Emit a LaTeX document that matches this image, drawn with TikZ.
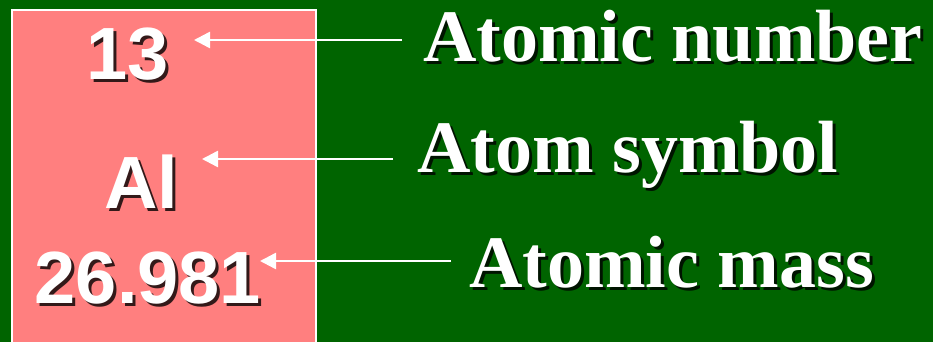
\documentclass[tikz,border=0pt]{standalone}
\usepackage{fontspec}
\setmainfont{Liberation Serif}
\newfontfamily\symfont{Liberation Sans}
\usetikzlibrary{arrows.meta, positioning}
\definecolor{ELgreen}{RGB}{0,100,0}
\definecolor{ELpink}{RGB}{255,127,127}
\tikzset{
  cell/.style={font=\symfont\bfseries\fontsize{74}{74}\selectfont, text=white, inner sep=0pt, anchor=base},
  cellsh/.style={cell, text=black, opacity=0.8},
  tag/.style={font=\bfseries\fontsize{74}{74}\selectfont, text=white, inner sep=0pt, anchor=base west},
  tagsh/.style={tag, text=black, opacity=0.8},
  pointer/.style={white, line width=2.5pt, -{Triangle[length=16pt, width=16pt]}}
}
\begin{document}
\begin{tikzpicture}[x=1pt, y=-1pt]
      \useasboundingbox (0,0) rectangle (933,342);
      % background and element cell
      \fill[ELgreen] (0,0) rectangle (933,342);
      \draw[white, line width=2pt, fill=ELpink] (12,10) rectangle (316,350);
      % cell entries (shadow first)
      \node[cellsh] (numsh) at (131,83) {13};
      \node[cell] (num) at (128,80) {13};
      \node[cellsh] (symsh) at (144,211) {Al};
      \node[cell] (sym) at (141,208) {Al};
      \node[cellsh] (masssh) at (151,306) {26.981};
      \node[cell] (mass) at (148,303) {26.981};
      % labels
      \node[tagsh] (numlabsh) at (426,65) {Atomic number};
      \node[tag] (numlab) at (423,62) {Atomic number};
      \node[tagsh] (symlabsh) at (420,175) {Atom symbol};
      \node[tag] (symlab) at (417,172) {Atom symbol};
      \node[tagsh] (masslabsh) at (472,290) {Atomic mass};
      \node[tag] (masslab) at (469,287) {Atomic mass};
      % pointers
      \coordinate (numtail) at (402,40);
      \coordinate (numtip) at (194,40);
      \coordinate (symtail) at (393,159);
      \coordinate (symtip) at (202,159);
      \coordinate (masstail) at (451,261);
      \coordinate (masstip) at (260,261);
      \draw[pointer] (numtail) -- (numtip);
      \draw[pointer] (symtail) -- (symtip);
      \draw[pointer] (masstail) -- (masstip);
\end{tikzpicture}
\end{document}
